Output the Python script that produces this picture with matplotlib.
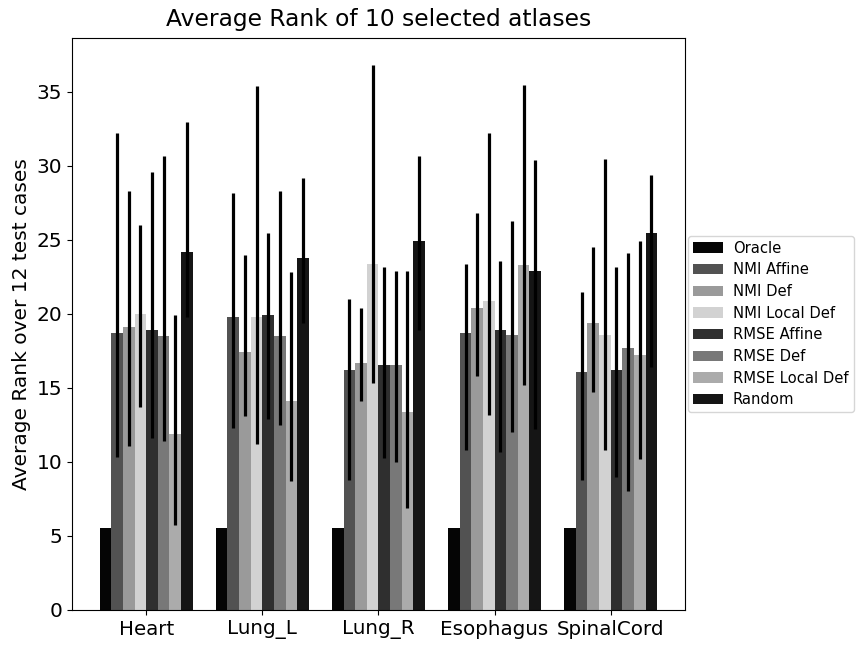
import numpy as np
import matplotlib.pyplot as plt

organs = ["Heart", "Lung_L", "Lung_R", "Esophagus", "SpinalCord"]
methods = ["Oracle", "NMI Affine", "NMI Def", "NMI Local Def",
           "RMSE Affine", "RMSE Def", "RMSE Local Def", "Random"]
colors = ["#050505", "#525252", "#9a9a9a", "#d2d2d2",
          "#2f2f2f", "#787878", "#ababab", "#151515"]

# mean rank per method (rows) and organ (columns)
oracle = [5.5, 5.5, 5.5, 5.5, 5.5]
nmi_affine = [18.7, 19.8, 16.2, 18.7, 16.1]
nmi_def = [19.1, 17.4, 16.7, 20.4, 19.4]
nmi_local_def = [20.0, 19.8, 23.4, 20.9, 18.6]
rmse_affine = [18.9, 19.9, 16.55, 18.9, 16.2]
rmse_def = [18.5, 18.5, 16.55, 18.6, 17.7]
rmse_local_def = [11.9, 14.1, 13.4, 23.3, 17.2]
random_sel = [24.2, 23.8, 24.9, 22.9, 25.5]

# lower / upper ends of the spread over test cases
low = [
    [5.5, 5.5, 5.5, 5.5, 5.5],
    [10.3, 12.3, 8.8, 10.8, 8.8],
    [11.1, 13.1, 14.1, 15.8, 14.75],
    [13.7, 11.2, 15.3, 13.2, 10.8],
    [11.6, 12.9, 10.25, 10.7, 9.0],
    [11.4, 12.5, 10.0, 12.0, 8.0],
    [5.7, 8.7, 6.9, 15.2, 10.2],
    [19.8, 19.4, 18.9, 12.2, 16.4],
]
high = [
    [5.5, 5.5, 5.5, 5.5, 5.5],
    [32.2, 28.2, 21.0, 23.4, 21.5],
    [28.3, 24.0, 20.4, 26.8, 24.5],
    [26.0, 35.4, 36.8, 32.2, 30.5],
    [29.6, 25.5, 23.2, 23.6, 23.2],
    [30.7, 28.3, 22.9, 26.3, 24.1],
    [19.9, 22.8, 22.9, 35.5, 24.9],
    [33.0, 29.2, 30.7, 30.4, 29.4],
]

means = [oracle, nmi_affine, nmi_def, nmi_local_def,
         rmse_affine, rmse_def, rmse_local_def, random_sel]

x = np.arange(len(organs))
width = 0.1

fig = plt.figure(figsize=(8.66, 6.46), dpi=100)
ax = fig.add_axes([0.083, 0.056, 0.708, 0.885])

for j, name in enumerate(methods):
    m = np.array(means[j])
    err = [m - np.array(low[j]), np.array(high[j]) - m]
    ax.bar(x + (j - 3.5) * width, m, width, color=colors[j], label=name,
           yerr=err, ecolor="black", error_kw=dict(elinewidth=2.3, capsize=0))

ax.set_xticks(x)
ax.set_xticklabels(organs, fontsize=14.3)
ax.tick_params(axis="y", labelsize=14.5)
ax.set_ylabel("Average Rank over 12 test cases", fontsize=14.5)
ax.set_title("Average Rank of 10 selected atlases", fontsize=16.8, pad=9)
ax.legend(loc="center left", bbox_to_anchor=(1.0, 0.5), fontsize=10.6,
          borderaxespad=0.2, borderpad=0.35, handletextpad=0.7,
          handlelength=2.0, labelspacing=0.45)

fig.savefig("out.png", dpi=100)
